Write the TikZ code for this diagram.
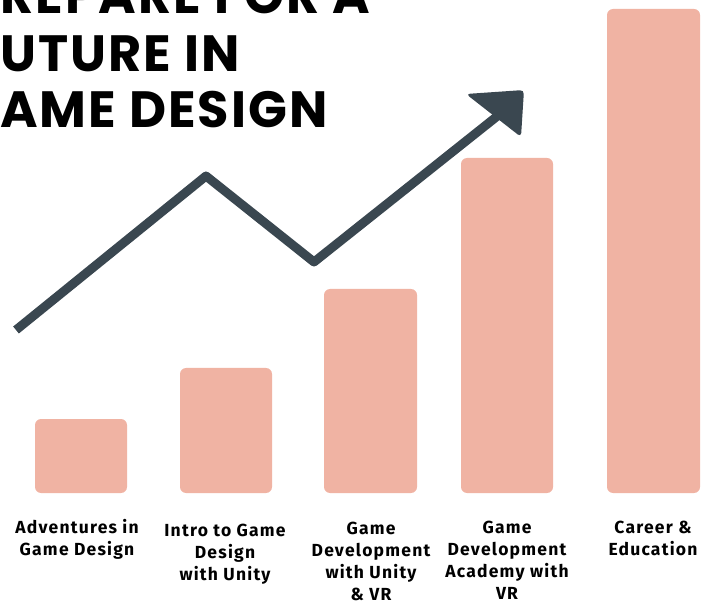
\documentclass[tikz,border=0pt]{standalone}
\usepackage{fontspec}
\newfontfamily\titlefont{Poppins}[LetterSpace=4]
\newfontfamily\labelfont{Fira Sans}[LetterSpace=7]
\definecolor{barc}{HTML}{F0B3A3}
\definecolor{darkc}{HTML}{3A4750}
\begin{document}
\begin{tikzpicture}[x=1pt,y=-1pt,
  bar/.style={fill=barc,draw=none,rounded corners=6pt},
  ttl/.style={anchor=base west,inner sep=0pt,font=\titlefont\bfseries\fontsize{51}{60}\selectfont},
  lbl/.style={anchor=base,inner sep=0pt,align=center,font=\labelfont\bfseries\fontsize{17.5}{22}\selectfont}]
\useasboundingbox (0,0) rectangle (713,604);
\begin{scope}
\clip (0,0) rectangle (713,604);
% bars
\fill[bar] (35,419) rectangle (127,493);
\fill[bar] (180,368) rectangle (272,493);
\fill[bar] (324,289) rectangle (417,493);
\fill[bar] (461,158) rectangle (553,493);
\fill[bar] (607,9) rectangle (700,493);
% title
\node[ttl] (t1) at (0,14) {REPARE FOR A};
\node[ttl] (t2) at (0,72) {UTURE IN};
\node[ttl] (t3) at (0,128) {AME DESIGN};
% trend line
\coordinate (p0) at (16,330);
\coordinate (p1) at (206,176);
\coordinate (p2) at (314,262);
\coordinate (p3) at (500,114);
\draw[darkc,line width=9pt,line join=round] (p0) -- (p1) -- (p2) -- (p3);
\fill[darkc,rounded corners=4pt] (466,94) -- (524,90) -- (521,137) -- cycle;
% labels (anchor = baseline of last line)
\node[lbl] (l1) at (77,555) {Adventures in\\Game Design};
\node[lbl] (l2) at (225,580) {Intro to Game\\Design\\with Unity};
\node[lbl] (l3) at (371,600) {Game\\Development\\with Unity\\\& VR};
\node[lbl] (l4) at (507,599) {Game\\Development\\Academy with\\VR};
\node[lbl] (l5) at (653,555) {Career \&\\Education};
\end{scope}
\end{tikzpicture}
\end{document}
